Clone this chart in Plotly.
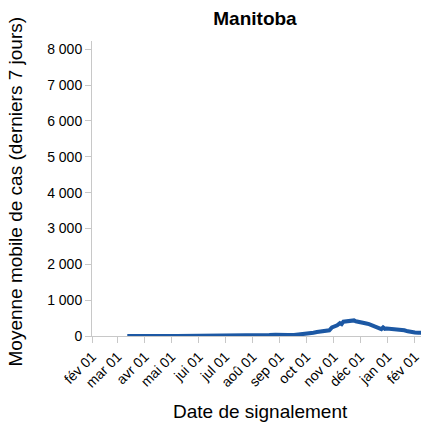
import plotly.graph_objects as go

# 7-day rolling average of reported cases, Manitoba
dates = [
    "2020-03-12", "2020-03-19", "2020-03-26", "2020-04-02", "2020-04-09", "2020-04-16",
    "2020-04-23", "2020-04-30", "2020-05-07", "2020-05-14", "2020-05-21", "2020-05-28",
    "2020-06-04", "2020-06-11", "2020-06-18", "2020-06-25", "2020-07-02", "2020-07-09",
    "2020-07-16", "2020-07-23", "2020-07-30", "2020-08-06", "2020-08-13", "2020-08-20",
    "2020-08-27", "2020-09-03", "2020-09-10", "2020-09-17", "2020-09-24", "2020-10-01",
    "2020-10-05", "2020-10-09", "2020-10-13", "2020-10-16", "2020-10-20", "2020-10-24",
    "2020-10-27", "2020-10-30", "2020-11-02", "2020-11-05", "2020-11-08", "2020-11-10",
    "2020-11-12", "2020-11-15", "2020-11-18", "2020-11-20", "2020-11-22", "2020-11-24",
    "2020-11-26", "2020-11-29", "2020-12-02", "2020-12-05", "2020-12-08", "2020-12-11",
    "2020-12-14", "2020-12-17", "2020-12-20", "2020-12-23", "2020-12-25", "2020-12-27",
    "2020-12-29", "2020-12-31", "2021-01-04", "2021-01-08", "2021-01-12", "2021-01-16",
    "2021-01-20", "2021-01-24", "2021-01-28", "2021-02-01", "2021-02-05", "2021-02-09",
    "2021-02-13", "2021-02-17",
]
cases_7d = [
    2, 5, 12, 15, 12, 8,
    3, 2, 1, 1, 1, 1,
    1, 1, 1, 1, 1, 1,
    2, 5, 8, 20, 28, 25,
    35, 45, 30, 25, 40, 50,
    60, 90, 110, 120, 130, 170,
    160, 240, 260, 300, 360, 330,
    400, 410, 430, 440, 420, 435,
    410, 400, 380, 370, 350, 330,
    300, 290, 250, 230, 190, 240,
    200, 210, 200, 210, 195, 180,
    160, 130, 105, 95, 90, 85,
    100, 105,
]

tick_dates = ["2020-02-01", "2020-03-01", "2020-04-01", "2020-05-01", "2020-06-01",
              "2020-07-01", "2020-08-01", "2020-09-01", "2020-10-01", "2020-11-01",
              "2020-12-01", "2021-01-01", "2021-02-01"]
tick_labels = ["fév 01", "mar 01", "avr 01", "mai 01", "jui 01", "jul 01", "aoû 01",
               "sep 01", "oct 01", "nov 01", "déc 01", "jan 01", "fév 01"]
y_ticks = [0, 1000, 2000, 3000, 4000, 5000, 6000, 7000, 8000]

FONT = "Liberation Sans, Arial, sans-serif"
PAD = 8  # default page margin around the plot div

fig = go.Figure()
fig.add_trace(go.Scatter(
    x=dates, y=cases_7d, mode="lines",
    line=dict(color="#1c58a4", width=4),
    hovertemplate="%{x}<br>%{y}<extra></extra>",
))

W, H = 429 - PAD, 430 - PAD
fig.update_layout(
    width=W, height=H,
    margin=dict(l=92 - PAD, r=0, t=41 - PAD, b=H - (336 - PAD)),
    plot_bgcolor="white", paper_bgcolor="white",
    separators=", ",
    showlegend=False,
    font=dict(family=FONT, color="#000"),
    title=dict(text="<b>Manitoba</b>", x=(255 - PAD)/W, xref="container", xanchor="center",
               y=1 - (18 - PAD)/H, yref="container", yanchor="middle", font=dict(size=19)),
    annotations=[
        dict(text="Date de signalement", xref="paper", yref="paper",
             x=(260 - 92)/337, y=-75/295, xanchor="center", yanchor="middle",
             showarrow=False, font=dict(size=19)),
        dict(text="Moyenne mobile de cas (derniers 7 jours)", xref="paper", yref="paper",
             x=-77/337, y=-3/295 + 0.5, xanchor="center", yanchor="middle", textangle=-90,
             showarrow=False, font=dict(size=19)),
    ],
)
fig.update_xaxes(
    range=["2020-02-01", "2021-02-17"],
    tickvals=tick_dates, ticktext=tick_labels, tickangle=-45,
    ticks="outside", ticklen=6, tickcolor="#c8c8c8",
    showline=True, linecolor="#c8c8c8", linewidth=1,
    showgrid=False, zeroline=False, automargin=False,
    tickfont=dict(size=14, color="#000"),
)
fig.update_yaxes(
    range=[0, 8230],
    tickvals=y_ticks, tickformat=",d",
    ticks="outside", ticklen=6, tickcolor="#c8c8c8",
    showline=True, linecolor="#c8c8c8", linewidth=1,
    showgrid=False, zeroline=False, automargin=False,
    tickfont=dict(size=14, color="#000"),
)

fig.write_html("out.html")
